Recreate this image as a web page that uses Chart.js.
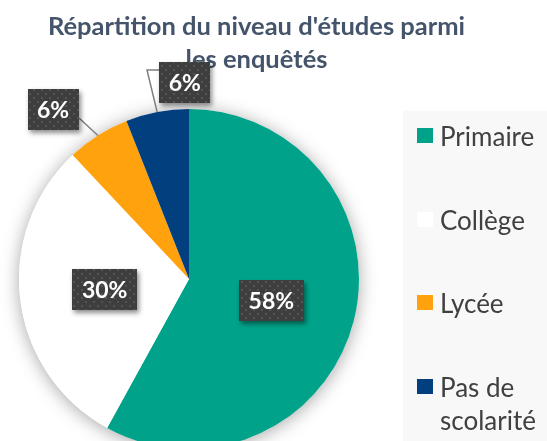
<!DOCTYPE html>
<html>
<head>
<meta charset="utf-8">
<script src="https://cdn.jsdelivr.net/npm/chart.js@4.4.0/dist/chart.umd.min.js"></script>
<style>
html, body { margin: 0; padding: 0; background: #fff; overflow: hidden; }
#wrap { width: 547px; height: 441px; overflow: hidden; }
canvas { display: block; }
</style>
</head>
<body>
<div id="wrap"><canvas id="pie" width="547" height="460"></canvas></div>
<script>
// data
var categories = ['Primaire', 'Collège', 'Lycée', 'Pas de scolarité'];
var legendLines = [['Primaire'], ['Collège'], ['Lycée'], ['Pas de', 'scolarité']];
var shares = [58, 30, 6, 6];
var colors = ['#00a38a', '#ffffff', '#ffa20d', '#013f7f'];
var titleLines = ["Répartition du niveau d'études parmi", 'les enquêtés'];

// where each percentage box sits, relative to its slice
var labelPlace = [
    { r: 0.5, turn: 0 },
    { r: 0.5, turn: 0 },
    { r: 1.276, turn: -6.4, leader: 'right' },
    { r: 1.159, turn: 9.6, leader: 'left' }
];

var tile = document.createElement('canvas');
tile.width = 8; tile.height = 8;
var t = tile.getContext('2d');
t.fillStyle = '#3e3e3e'; t.fillRect(0, 0, 8, 8);
t.fillStyle = '#545454'; t.fillRect(1, 1, 2, 2); t.fillRect(5, 5, 2, 2);

var pieShadow = {
    id: 'pieShadow',
    beforeDatasetsDraw: function (chart) {
        var ctx = chart.ctx;
        var arc = chart.getDatasetMeta(0).data[0];
        ctx.save();
        ctx.shadowColor = 'rgba(0,0,0,0.35)';
        ctx.shadowBlur = 18;
        ctx.shadowOffsetY = 2;
        ctx.fillStyle = '#ffffff';
        ctx.beginPath();
        ctx.arc(arc.x, arc.y, arc.outerRadius, 0, Math.PI * 2);
        ctx.fill();
        ctx.restore();
    }
};

var decorations = {
    id: 'decorations',
    afterDatasetsDraw: function (chart) {
        var ctx = chart.ctx;
        var pattern = ctx.createPattern(tile, 'repeat');

        // title
        ctx.save();
        ctx.fillStyle = '#44546a';
        ctx.font = 'bold 25.5px Lato';
        ctx.textAlign = 'center';
        ctx.textBaseline = 'alphabetic';
        titleLines.forEach(function (line, i) {
            ctx.fillText(line, 256.5, 34.5 + i * 33.5);
        });
        ctx.restore();

        // percentage boxes
        var meta = chart.getDatasetMeta(0);
        meta.data.forEach(function (arc, i) {
            var p = arc.getProps(['x', 'y', 'startAngle', 'endAngle', 'outerRadius'], true);
            var mid = (p.startAngle + p.endAngle) / 2;
            var pl = labelPlace[i];
            var a = mid + pl.turn * Math.PI / 180;
            var cx = p.x + Math.cos(a) * pl.r * p.outerRadius;
            var cy = p.y + Math.sin(a) * pl.r * p.outerRadius;
            var text = shares[i] + '%';
            ctx.save();
            ctx.font = 'bold 23px Lato';
            var w = Math.round(ctx.measureText(text).width + 19);
            var h = 41;
            var x0 = Math.round(cx - w / 2), y0 = Math.round(cy - h / 2);

            if (pl.leader) {
                var ex = p.x + Math.cos(mid) * p.outerRadius;
                var ey = p.y + Math.sin(mid) * p.outerRadius;
                ctx.strokeStyle = '#7f7f7f';
                ctx.lineWidth = 1.5;
                ctx.beginPath();
                ctx.moveTo(ex, ey);
                if (pl.leader === 'left') {
                    ctx.lineTo(x0 - 12, y0 + 8);
                    ctx.lineTo(x0, y0 + 8);
                } else {
                    ctx.lineTo(x0 + w, y0 + h - 12);
                }
                ctx.stroke();
            }

            ctx.shadowColor = 'rgba(0,0,0,0.45)';
            ctx.shadowBlur = 5;
            ctx.shadowOffsetX = 2;
            ctx.shadowOffsetY = 3;
            ctx.fillStyle = pattern;
            ctx.fillRect(x0, y0, w, h);
            ctx.shadowColor = 'transparent';
            ctx.fillStyle = '#ffffff';
            ctx.textAlign = 'center';
            ctx.textBaseline = 'middle';
            ctx.fillText(text, cx, y0 + h / 2 + 1);
            ctx.restore();
        });

        // legend
        ctx.save();
        ctx.fillStyle = '#f8f8f8';
        ctx.fillRect(403, 111, chart.width - 403, chart.height - 111);
        ctx.font = '26px Lato';
        ctx.textBaseline = 'alphabetic';
        legendLines.forEach(function (lines, i) {
            var base = 146 + i * 83.7;
            ctx.fillStyle = colors[i];
            ctx.fillRect(417, Math.round(base - 18), 16, 15);
            ctx.fillStyle = '#404040';
            lines.forEach(function (line, j) {
                ctx.fillText(line, 440, base + j * 33);
            });
        });
        ctx.restore();
    }
};

new Chart(document.getElementById('pie'), {
    type: 'pie',
    data: {
        labels: categories,
        datasets: [{
            data: shares,
            backgroundColor: colors,
            borderWidth: 0
        }]
    },
    options: {
        responsive: false,
        animation: false,
        layout: { padding: { left: 19, right: 188, top: 109, bottom: 11 } },
        plugins: {
            legend: { display: false },
            title: { display: false },
            tooltip: { enabled: false }
        }
    },
    plugins: [pieShadow, decorations]
});
</script>
</body>
</html>
